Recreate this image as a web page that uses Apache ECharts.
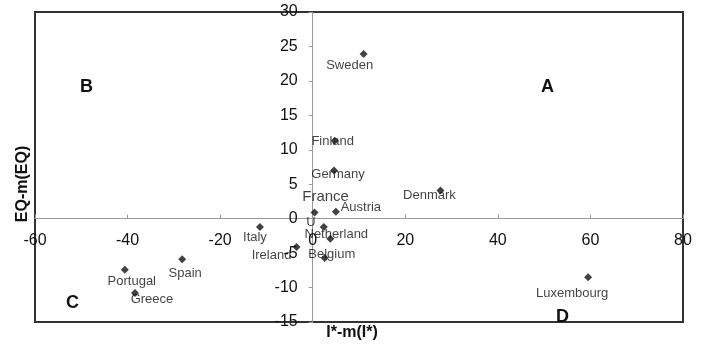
<!DOCTYPE html>
<html><head><meta charset="utf-8">
<script src="https://cdn.jsdelivr.net/npm/echarts@6/dist/echarts.min.js"></script>
<style>html,body{margin:0;padding:0;background:#fff}#c{width:701px;height:345px}</style>
</head><body><div id="c"></div>
<script>
const countries = ["Sweden","Finland","Germany","France","Austria","U","Netherland","Ireland","Belgium","Italy","Denmark","Luxembourg","Spain","Portugal","Greece"];
const xValues = [11.0, 4.75, 4.6, 0.4, 5.0, 2.4, 3.8, -3.5, 2.6, -11.4, 27.6, 59.5, -28.2, -40.6, -38.4];
const yValues = [23.9, 11.3, 7.0, 0.9, 1.0, -1.2, -2.9, -4.1, -5.7, -1.2, 4.1, -8.5, -5.9, -7.4, -10.8];
const xTicks = [-60, -40, -20, 0, 20, 40, 60, 80];
const yTicks = [-15, -10, -5, 0, 5, 10, 15, 20, 25, 30];
const quadrants = ["A","B","C","D"];

const labelOffsets = {
  Sweden:[-14,11], Finland:[-2,1], Germany:[4,4], France:[11,-16], Austria:[25,-4],
  U:[-13,-5], Netherland:[6,-4], Ireland:[-25,9], Belgium:[7,-4], Italy:[-5,10],
  Denmark:[-11,5], Luxembourg:[-16,16], Spain:[3,14], Portugal:[7,12], Greece:[17,6]
};
const FONT = "'Liberation Sans', Arial, sans-serif";
const GRID = {left:35, right:18, top:12, bottom:23};

const data = countries.map((c,i)=>({
  name:c, value:[xValues[i], yValues[i]],
  label:{offset:labelOffsets[c], fontSize: c==="France"?15:13}
}));

const chart = echarts.init(document.getElementById('c'), null, {renderer:'canvas'});
chart.setOption({
  animation:false,
  backgroundColor:'#fff',
  grid:{left:GRID.left, right:GRID.right, top:GRID.top, bottom:GRID.bottom, containLabel:false, outerBoundsMode:'none',
        show:true, borderColor:'#333', borderWidth:2, backgroundColor:'transparent'},
  xAxis:{
    type:'value', position:'bottom', min:xTicks[0], max:xTicks[xTicks.length-1], interval:20,
    axisLine:{onZero:false, lineStyle:{color:'#999', width:1}},
    axisTick:{show:true, inside:true, length:4, lineStyle:{color:'#999'}},
    axisLabel:{color:'#111', fontSize:16, fontFamily:FONT, margin:14, showMinLabel:true, showMaxLabel:true},
    splitLine:{show:false}
  },
  yAxis:{
    type:'value', position:'left', min:yTicks[0], max:yTicks[yTicks.length-1], interval:5,
    axisLine:{onZero:false, lineStyle:{color:'#999', width:1}},
    axisTick:{show:true, inside:false, length:4, lineStyle:{color:'#999'}},
    axisLabel:{color:'#111', fontSize:16, fontFamily:FONT, margin:15, showMinLabel:true, showMaxLabel:true},
    splitLine:{show:false}
  },
  series:[{
    type:'scatter', symbol:'diamond', symbolSize:8,
    itemStyle:{color:'#111'},
    label:{show:true, position:'inside', formatter:'{b}', color:'#111', fontFamily:FONT},
    data:data
  }],
  graphic:[
    {type:'text', left:80, top:78, style:{text:quadrants[1], font:"bold 18px "+FONT, fill:'#111'}},
    {type:'text', left:541, top:78, style:{text:quadrants[0], font:"bold 18px "+FONT, fill:'#111'}},
    {type:'text', left:66, top:294, style:{text:quadrants[2], font:"bold 18px "+FONT, fill:'#111'}},
    {type:'text', left:556, top:308, style:{text:quadrants[3], font:"bold 18px "+FONT, fill:'#111'}},
    {type:'text', x:352, y:333, style:{text:"I*-m(I*)", font:"bold 16px "+FONT, fill:'#111', align:'center', verticalAlign:'middle'}},
    {type:'text', x:23, y:184, rotation:Math.PI/2, style:{text:"EQ-m(EQ)", font:"bold 16px "+FONT, fill:'#111', align:'center', verticalAlign:'middle'}}
  ]
});
// move each axis (line, ticks, labels) to cross at the other axis's zero
const plotW = 701 - GRID.left - GRID.right;
const plotH = 345 - GRID.top - GRID.bottom;
const xMin = xTicks[0], xMax = xTicks[xTicks.length-1];
const yMin = yTicks[0], yMax = yTicks[yTicks.length-1];
const x0 = GRID.left + (0 - xMin) / (xMax - xMin) * plotW;
const y0 = GRID.top + (yMax - 0) / (yMax - yMin) * plotH;
const bottomPx = 345 - GRID.bottom;
chart.setOption({
  xAxis:{offset: -(bottomPx - y0)},
  yAxis:{offset: -(x0 - GRID.left)}
});
</script></body></html>
